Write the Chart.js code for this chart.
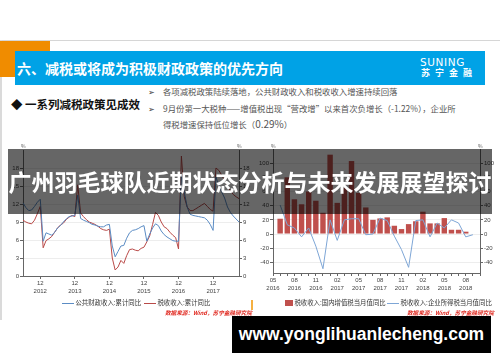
<!DOCTYPE html>
<html>
<head>
<meta charset="utf-8">
<script src="https://cdn.jsdelivr.net/npm/chart.js@4.4.1/dist/chart.umd.min.js"></script>
<style>
  html, body { margin: 0; padding: 0; }
  body { width: 500px; height: 362px; position: relative; overflow: hidden; background: #fff;
         font-family: "Noto Sans CJK SC", "Noto Sans", sans-serif; }
  .abs { position: absolute; }
  .topline { left: 0; top: 40px; width: 500px; height: 1px; background: #d6d6d6; }
  .frameleft { left: 0; top: 40px; width: 2px; height: 280px; background: #dadada; }
  .orange { left: 0; top: 41px; width: 50px; height: 36px; background: #f08c00; }
  .bluebar { left: 15px; top: 51px; width: 470px; height: 34px; background: #00a2e6; }
  .title { left: 17px; top: 51px; height: 34px; line-height: 34px; color: #fff; font-size: 14px; font-weight: bold; white-space: nowrap; }
  .suning { left: 420px; top: 56px; color: #fff; font-family: "DejaVu Sans", sans-serif; font-size: 10.5px; letter-spacing: 0.6px; line-height: 12px; }
  .suningcn { left: 421px; top: 67px; color: #fff; font-size: 9px; letter-spacing: 5px; line-height: 11px; font-weight: bold; }
  .lead { left: 11px; top: 95px; font-size: 11.5px; font-weight: bold; color: #111; line-height: 18px; white-space: nowrap; }
  .pt { left: 148px; font-size: 8.4px; color: #555; line-height: 12px; white-space: nowrap; }
  .pt b { font-weight: normal; display: inline-block; width: 15px; color: #333; }
  .banner { left: 8px; top: 149px; width: 484px; height: 65px; background: rgba(0,0,0,0.6); z-index: 5;
            color: #fff; font-size: 23px; font-weight: bold; line-height: 65px; text-align: center; white-space: nowrap; }
  .url { left: 232px; top: 316px; width: 259px; height: 37px; background: #000; z-index: 5;
         color: #fff; font-family: "Liberation Sans", Arial, sans-serif; font-weight: bold; font-size: 17.5px; line-height: 37px; text-align: center; }
  .legend { top: 298px; font-size: 6.4px; color: #333; line-height: 10px; white-space: nowrap; }
  .legend i { display: inline-block; vertical-align: middle; }
  .src { top: 308px; font-size: 5.6px; color: #e0261d; font-style: italic; font-weight: bold; white-space: nowrap; line-height: 10px; }
  .pct { font-size: 5px; color: #555; }
  canvas { position: absolute; }
</style>
</head>
<body>
<div class="abs topline"></div>
<div class="abs frameleft"></div>
<div class="abs orange"></div>
<div class="abs bluebar"></div>
<div class="abs title">六、减税或将成为积极财政政策的优先方向</div>
<div class="abs suning">SUNING</div>
<div class="abs suningcn">苏宁金融</div>
<div class="abs lead">◆ 一系列减税政策见成效</div>
<div class="abs pt" style="top:85px"><b>➢</b>各项减税政策陆续落地，公共财政收入和税收收入增速持续回落</div>
<div class="abs pt" style="top:102px"><b>➢</b>9月份第一大税种——增值税出现“营改增”以来首次负增长（-1.22%），企业所</div>
<div class="abs pt" style="top:118px"><b></b>得税增速保持低位增长（<span style="font-size:10px">0.29%</span>）</div>

<canvas id="leftCanvas" width="250" height="160" style="left:0;top:140px"></canvas>
<canvas id="rightCanvas" width="250" height="160" style="left:250px;top:140px"></canvas>

<div class="abs pct" style="left:21px;top:142px">%</div>
<div class="abs pct" style="left:237px;top:142px">%</div>
<div class="abs pct" style="left:271px;top:142px">%</div>
<div class="abs pct" style="left:478px;top:142px">%</div>

<div class="abs legend" style="left:62px"><i style="width:12px;height:1px;background:#5b8cc4"></i> 公共财政收入:累计同比 &nbsp;<i style="width:12px;height:1px;background:#b94a48"></i> 税收收入:累计同比</div>
<div class="abs legend" style="left:285px"><i style="width:8px;height:6px;background:#c0504d"></i> 税收收入:国内增值税当月值同比 <i style="width:12px;height:1px;background:#7ea6d6"></i> 税收收入:企业所得税当月值同比</div>
<div class="abs src" style="left:165px">数据来源：Wind，苏宁金融研究院</div>
<div class="abs src" style="left:407px">数据来源：Wind，苏宁金融研究院</div>
<div class="abs" style="left:251px;top:300px;width:1.5px;height:10px;background:#f5b041"></div>

<div class="abs banner">广州羽毛球队近期状态分析与未来发展展望探讨</div>
<div class="abs url">www.yonglihuanlecheng.com</div>

<script>
// month labels "YYYY-MM" between two months
function monthRange(from, to) {
    let [y, m] = from.split('-').map(Number);
    const [ty, tm] = to.split('-').map(Number);
    const out = [];
    while (y < ty || (y === ty && m <= tm)) {
        out.push(y + '-' + String(m).padStart(2, '0'));
        m++; if (m > 12) { m = 1; y++; }
    }
    return out;
}

// left chart: cumulative yoy, %
const leftMonths = monthRange('2012-06', '2018-09');
const publicRevenueYoY = [
    12.2, 11.4, 10.9, 11.0, 11.6, 12.3, 12.8,
    5.8, 7.2, 7.0, 6.8, 7.3, 8.0, 8.4, 9.0, 9.5, 9.9, 10.0, 10.1,
    13.5, 9.6, 9.3, 9.1, 8.9, 8.6, 8.5, 8.3, 8.2, 8.2, 8.5, 8.6,
    5.0, 3.2, 4.1, 5.0, 5.1, 6.3, 7.2, 7.6, 7.7, 7.9, 8.2, 8.4,
    5.8, 7.0, 8.0, 8.7, 8.4, 7.5, 6.9, 6.5, 6.2, 5.9, 5.8, 5.8,
    17.0, 14.0, 11.5, 10.3, 10.1, 10.0, 9.9, 9.8, 9.7, 9.3, 8.6, 7.6,
    16.5, 15.0, 14.0, 13.0, 11.5, 10.6, 10.0, 9.5, 9.0
];
const taxRevenueYoY = [
    9.3, 9.0, 8.8, 8.7, 9.3, 10.4, 11.6,
    4.7, 5.9, 6.2, 6.6, 7.3, 8.0, 8.5, 8.8, 9.4, 9.8, 10.1, 9.9,
    15.2, 10.5, 9.9, 9.4, 9.0, 8.8, 8.6, 8.3, 7.9, 7.7, 7.6, 7.8,
    3.0, 1.0, 1.5, 2.6, 2.1, 3.4, 4.4, 4.5, 4.3, 4.2, 4.6, 4.8,
    5.7, 6.7, 8.6, 10.6, 10.1, 9.0, 8.2, 7.9, 7.3, 6.8, 6.4, 4.5,
    20.0, 13.2, 11.5, 10.9, 10.9, 11.2, 11.5, 11.8, 12.1, 11.6, 11.1, 10.8,
    18.0, 17.6, 16.8, 15.9, 15.0, 14.2, 13.6, 13.2, 12.9
];
const leftTicks = [0, 3, 6, 9, 12, 15, 18];

// right chart: monthly yoy, %
const rightMonths = monthRange('2016-05', '2018-10');
const vatMonthlyYoY = [
    null, 21.6, 80, 49, 42, 60, 47, 30,
    112, 44, 65, 103, 58, 37.5, 20, 22, 23.5, 11.7, 7, 14,
    18, 31.5, 15, 15, 22.5, 6, 6, 3.3, null, null
];
const citMonthlyYoY = [
    null, 41, 13, 8.5, -4, 8.5, -17, -49,
    20, -9, 20, 21.6, 21.6, -1, 0, 22.5, 19, -3, -22, -47,
    19, 20, -4, 15.5, 8.5, 20, 15.5, -4, -1, null
];
const rightTicks = [-40, -20, 0, 20, 40, 60, 80, 100];

const tickFont = { family: 'Liberation Sans', size: 6 };
const axisColor = '#666';

function yAxis(pos, min, max, ticks, width, grid) {
    return {
        position: pos, min: min, max: max,
        afterBuildTicks: s => { s.ticks = ticks.map(v => ({ value: v })); },
        afterFit: s => { s.width = width; },
        ticks: { font: tickFont, color: '#444', padding: 1 },
        grid: { drawOnChartArea: grid, color: '#ededed', tickLength: 3, tickColor: axisColor },
        border: { color: axisColor }
    };
}

new Chart(document.getElementById('leftCanvas'), {
    type: 'line',
    data: {
        labels: leftMonths,
        datasets: [
            { label: '公共财政收入:累计同比', data: publicRevenueYoY, borderColor: '#5b8cc4', borderWidth: 1, pointRadius: 0, tension: 0, yAxisID: 'y' },
            { label: '税收收入:累计同比', data: taxRevenueYoY, borderColor: '#b94a48', borderWidth: 1, pointRadius: 0, tension: 0, yAxisID: 'y' }
        ]
    },
    options: {
        responsive: false, animation: false,
        layout: { padding: { top: 10, left: 0, right: 0, bottom: 0 } },
        plugins: { legend: { display: false }, tooltip: { enabled: false } },
        scales: {
            x: {
                afterFit: s => { s.height = 24; },
                ticks: {
                    autoSkip: false, maxRotation: 0, font: { ...tickFont, lineHeight: 1.4 }, color: '#444', padding: 0,
                    callback: (v, i) => {
                        const [y, m] = leftMonths[i].split('-');
                        return m === '12' ? ['12', y] : '';
                    }
                },
                grid: {
                    drawOnChartArea: false, tickLength: 3,
                    color: c => (leftMonths[c.index] || '').endsWith('-12') ? axisColor : 'transparent'
                },
                border: { color: axisColor }
            },
            y: yAxis('left', 0, 21, leftTicks, 23, true),
            y2: yAxis('right', 0, 21, leftTicks, 11, false)
        }
    }
});

new Chart(document.getElementById('rightCanvas'), {
    type: 'bar',
    data: {
        labels: rightMonths,
        datasets: [
            { type: 'line', label: '税收收入:企业所得税当月值同比', data: citMonthlyYoY, borderColor: '#7ea6d6', borderWidth: 1, pointRadius: 0, tension: 0, yAxisID: 'y' },
            { type: 'bar', label: '税收收入:国内增值税当月值同比', data: vatMonthlyYoY, backgroundColor: '#c0504d', categoryPercentage: 1, barPercentage: 0.76, yAxisID: 'y' }
        ]
    },
    options: {
        responsive: false, animation: false,
        layout: { padding: { top: 9, left: 0, right: 0, bottom: 0 } },
        plugins: { legend: { display: false }, tooltip: { enabled: false } },
        scales: {
            x: {
                offset: false,
                afterFit: s => { s.height = 27; },
                ticks: {
                    autoSkip: false, maxRotation: 0, font: { ...tickFont, lineHeight: 1.4 }, color: '#444', padding: 0,
                    callback: (v, i) => {
                        const [y, m] = rightMonths[i].split('-');
                        return i % 3 === 0 && i < 29 ? [m, y] : '';
                    }
                },
                grid: { offset: false, drawOnChartArea: false, tickLength: 3, color: axisColor },
                border: { color: axisColor }
            },
            y: yAxis('left', -55, 120, rightTicks, 23, true),
            y2: yAxis('right', -55, 120, rightTicks, 20, false)
        }
    }
});
</script>
</body>
</html>
